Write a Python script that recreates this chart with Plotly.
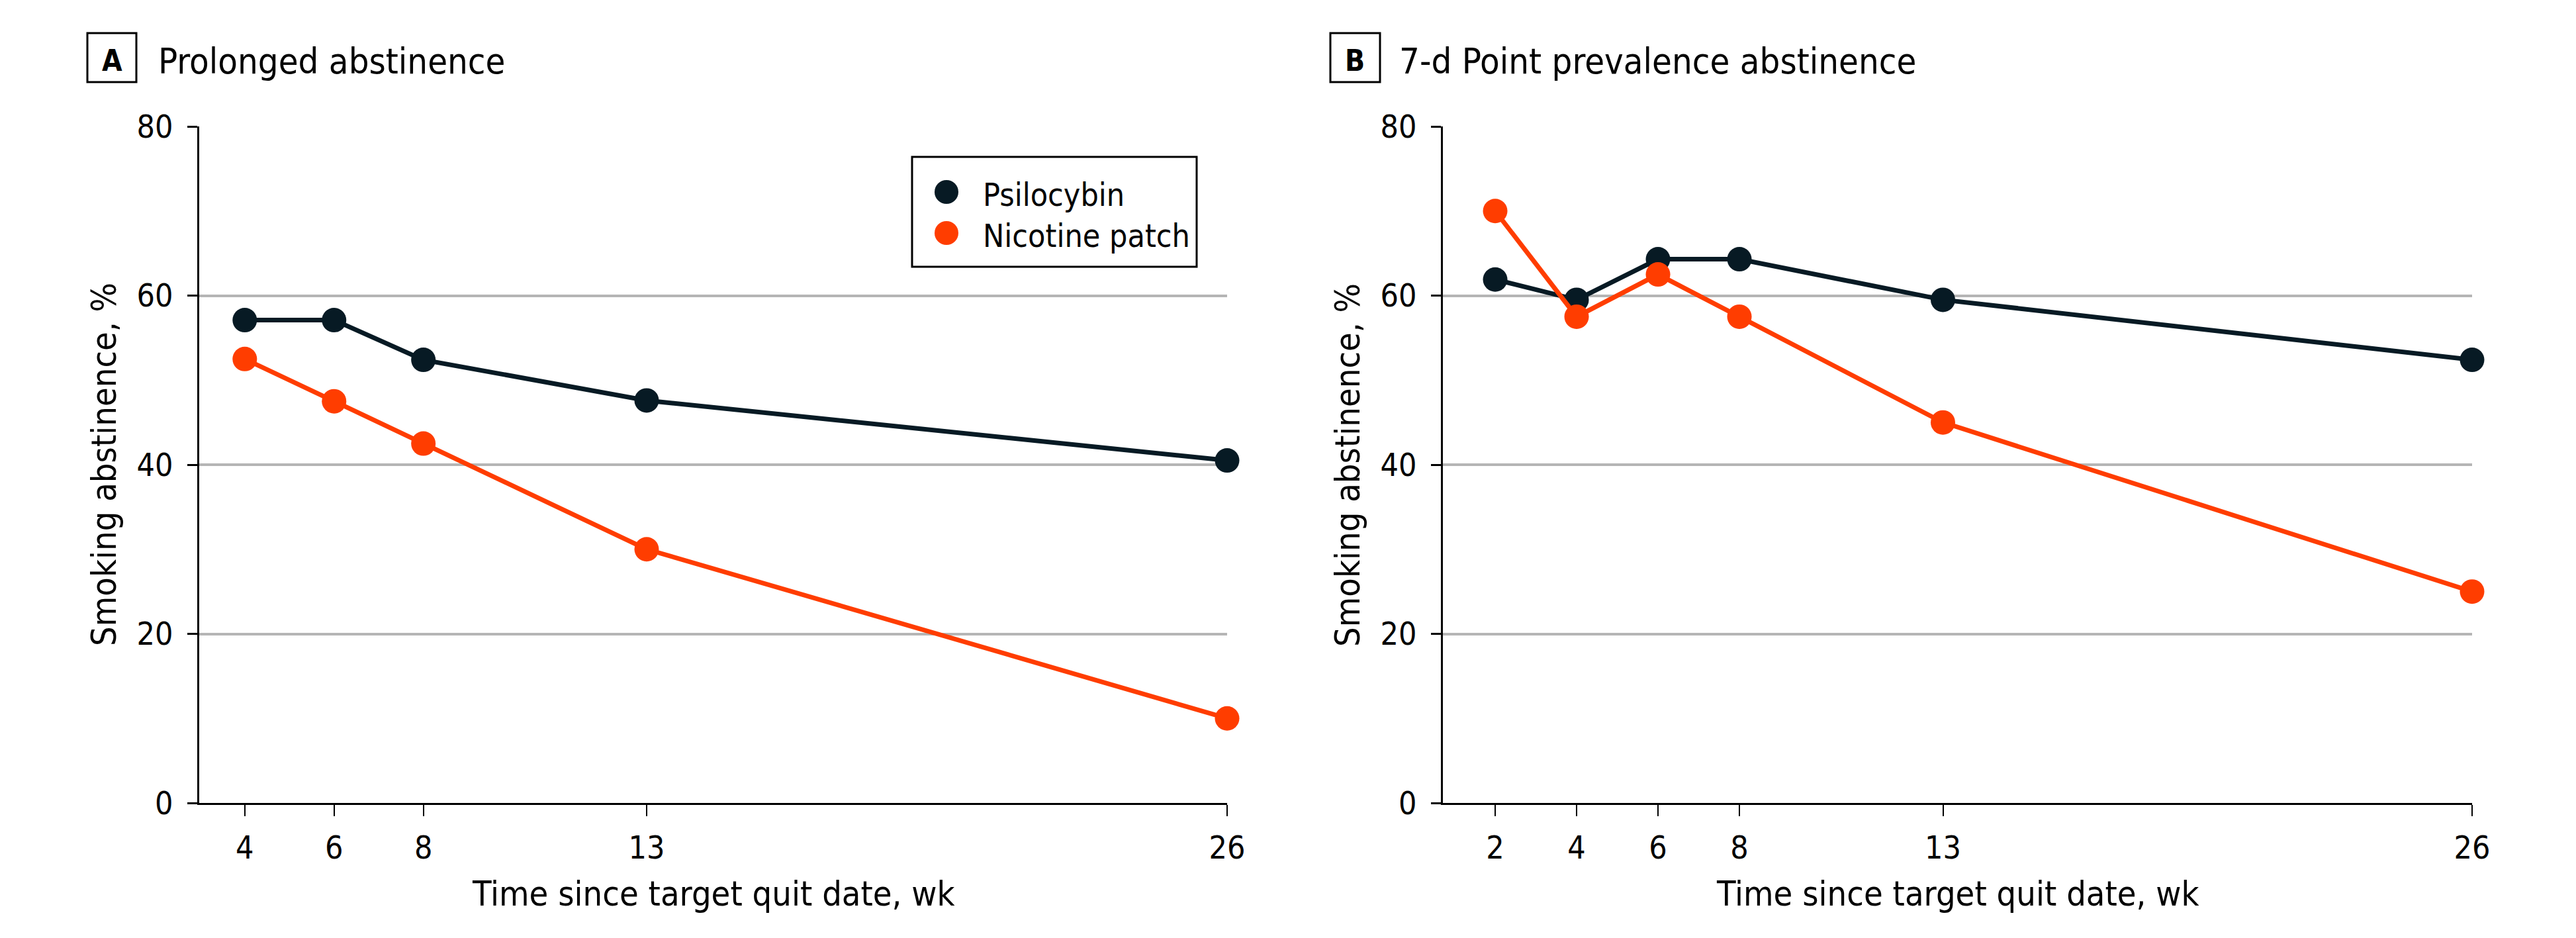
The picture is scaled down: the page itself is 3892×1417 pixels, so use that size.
import plotly.graph_objects as go

W, H = 3892, 1417

# ---- data ----
weeks_a = [4, 6, 8, 13, 26]
psilo_a = [57.1, 57.1, 52.4, 47.6, 40.5]
nic_a = [52.5, 47.5, 42.5, 30.0, 10.0]

weeks_b = [2, 4, 6, 8, 13, 26]
psilo_b = [61.9, 59.5, 64.3, 64.3, 59.5, 52.4]
nic_b = [70.0, 57.5, 62.5, 57.5, 45.0, 25.0]

y_ticks = [0, 20, 40, 60, 80]
series_names = ["Psilocybin", "Nicotine patch"]
panel_letters = ["A", "B"]
panel_titles = ["Prolonged abstinence", "7-d Point prevalence abstinence"]
x_title = "Time since target quit date, wk"
y_title = "Smoking abstinence, %"

NAVY = "#071a24"
ORANGE = "#ff3d00"
GRID = "#b5b5b5"
FONT = "Noto Sans Condensed, DejaVu Sans Condensed, Liberation Sans Narrow, Roboto Condensed, Roboto, sans-serif"


def fx(x):
    return x / W


def fy(y):
    return 1 - y / H


fig = go.Figure()

for i, (wk, ps, nc) in enumerate([(weeks_a, psilo_a, nic_a), (weeks_b, psilo_b, nic_b)]):
    xa = "x" if i == 0 else "x2"
    ya = "y" if i == 0 else "y2"
    for vals, col, name in [(ps, NAVY, series_names[0]), (nc, ORANGE, series_names[1])]:
        fig.add_trace(go.Scatter(
            x=wk, y=vals, mode="lines+markers", name=name, showlegend=False,
            line=dict(color=col, width=7),
            marker=dict(color=col, size=37),
            cliponaxis=False, xaxis=xa, yaxis=ya,
        ))

# axes
ydom = [fy(1213), fy(191)]
common_x = dict(
    showline=True, linecolor="black", linewidth=3,
    ticks="outside", ticklen=17, tickwidth=2, tickcolor="black",
    showgrid=False, zeroline=False, automargin=False,
    tickfont=dict(family=FONT, size=48, color="black"),
    ticklabelstandoff=6,
)
common_y = dict(
    range=[0, 80], tickvals=y_ticks,
    showline=True, linecolor="black", linewidth=3,
    ticks="outside", ticklen=15, tickwidth=3, tickcolor="black",
    showgrid=True, gridcolor=GRID, gridwidth=4, zeroline=False, automargin=False,
    tickfont=dict(family=FONT, size=48, color="black"),
    ticklabelstandoff=12,
)
fig.update_layout(
    xaxis=dict(domain=[fx(301), fx(1854)], range=[2.98, 26], tickvals=weeks_a, anchor="y", **common_x),
    yaxis=dict(domain=ydom, anchor="x", **common_y),
    xaxis2=dict(domain=[fx(2180), fx(3735)], range=[0.715, 26], tickvals=weeks_b, anchor="y2", **common_x),
    yaxis2=dict(domain=ydom, anchor="x2", **common_y),
)

shapes = []
annotations = []

# panel labels & titles
box_x = [(132, 206), (2010, 2085)]
title_x = [237, 2112]
for i in range(2):
    x0, x1 = box_x[i]
    shapes.append(dict(type="rect", xref="paper", yref="paper",
                       x0=fx(x0), x1=fx(x1), y0=fy(124), y1=fy(50),
                       line=dict(color="black", width=3), fillcolor="white"))
    annotations.append(dict(text="<b>%s</b>" % panel_letters[i], xref="paper", yref="paper",
                            x=fx((x0 + x1) / 2), y=fy(91), xanchor="center", yanchor="middle",
                            showarrow=False, font=dict(family=FONT, size=44, color="black")))
    annotations.append(dict(text=panel_titles[i], xref="paper", yref="paper",
                            x=fx(title_x[i]), y=fy(93), xanchor="left", yanchor="middle",
                            showarrow=False, font=dict(family=FONT, size=54, color="black")))

# axis titles
for cx in [(301 + 1854) / 2, (2180 + 3735) / 2]:
    annotations.append(dict(text=x_title, xref="paper", yref="paper",
                            x=fx(cx), y=fy(1350), xanchor="center", yanchor="middle",
                            showarrow=False, font=dict(family=FONT, size=52, color="black")))
for cx in [157, 2036]:
    annotations.append(dict(text=y_title, xref="paper", yref="paper", textangle=-90,
                            x=fx(cx), y=fy(702), xanchor="center", yanchor="middle",
                            showarrow=False, font=dict(family=FONT, size=52, color="black")))

# legend (manual)
shapes.append(dict(type="rect", xref="paper", yref="paper",
                   x0=fx(1378), x1=fx(1808), y0=fy(403), y1=fy(237),
                   line=dict(color="black", width=3), fillcolor="white"))
for name, col, cy in [(series_names[0], NAVY, 290), (series_names[1], ORANGE, 352)]:
    shapes.append(dict(type="circle", xref="paper", yref="paper",
                       xsizemode="pixel", ysizemode="pixel",
                       xanchor=fx(1430), yanchor=fy(cy),
                       x0=-18, x1=18, y0=-18, y1=18,
                       line=dict(width=0), fillcolor=col))
    annotations.append(dict(text=name, xref="paper", yref="paper",
                            x=fx(1483), y=fy(cy + 4), xanchor="left", yanchor="middle",
                            showarrow=False, font=dict(family=FONT, size=48, color="black")))

fig.update_layout(
    width=W, height=H, margin=dict(l=0, r=0, t=0, b=0, autoexpand=False),
    paper_bgcolor="white", plot_bgcolor="white",
    showlegend=False, shapes=shapes, annotations=annotations,
    font=dict(family=FONT, color="black"),
)

fig.write_html("out.html")
